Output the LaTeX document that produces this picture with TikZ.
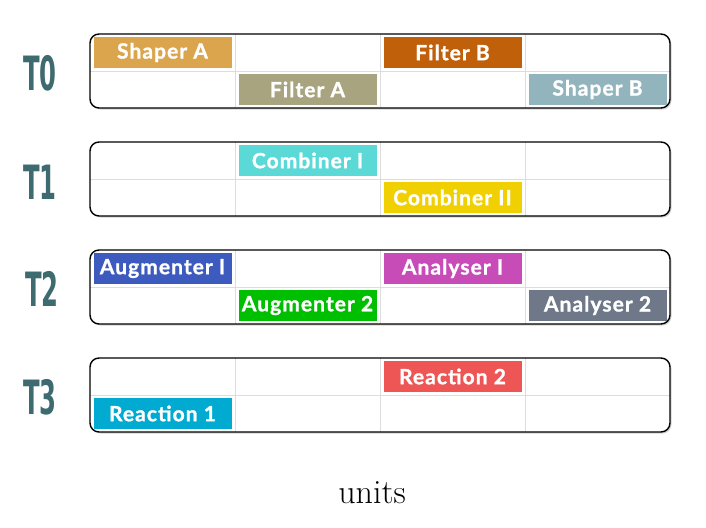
\documentclass[tikz,border=0pt]{standalone}
\usepackage{fontspec}
\newfontfamily\boxfont{Lato}[LetterSpace=5, BoldFeatures={FakeBold=1.2}]
\newfontfamily\rowfont{DejaVu Sans Condensed}
\usetikzlibrary{shadows}

\definecolor{rowteal}{HTML}{3D6B70}
\definecolor{gridgray}{HTML}{DDDDDD}
\definecolor{shaperA}{HTML}{DBA54D}
\definecolor{filterA}{HTML}{A8A480}
\definecolor{filterB}{HTML}{C0600A}
\definecolor{shaperB}{HTML}{92B5BD}
\definecolor{combI}{HTML}{5AD9D6}
\definecolor{combII}{HTML}{F0D000}
\definecolor{augI}{HTML}{3D5ABF}
\definecolor{augII}{HTML}{00BF00}
\definecolor{anaI}{HTML}{C84CB8}
\definecolor{anaII}{HTML}{6E7888}
\definecolor{reacII}{HTML}{EE5555}
\definecolor{reacI}{HTML}{00AAD0}

\tikzset{
  panelbg/.style={fill=white, rounded corners=9pt,
    drop shadow={shadow xshift=1.5pt, shadow yshift=-1.5pt, opacity=0.35}},
  panelline/.style={draw=black, line width=1.4pt, rounded corners=9pt},
  gridline/.style={draw=gridgray, line width=0.8pt},
  unitbox/.style={fill=#1, text=white, minimum width=138pt, minimum height=31pt,
    inner sep=0pt, font=\boxfont\bfseries\fontsize{21}{21}\selectfont},
  rowlabel/.style={text=rowteal, xscale=0.6, yscale=1.05,
    font=\rowfont\bfseries\fontsize{45}{45}\selectfont}
}

\begin{document}
\begin{tikzpicture}[x=1pt,y=-1pt]
\useasboundingbox (0,0) rectangle (706,527);

% panels with grid
\foreach \py in {34,142,250,358}{
  \path[panelbg] (90,\py) rectangle (670,\py+74);
  \foreach \gx in {235,380,525}
    \draw[gridline] (\gx,\py) -- (\gx,\py+74);
  \draw[gridline] (90,\py+37) -- (670,\py+37);
}

% T0
\begin{scope}
  \clip[rounded corners=9pt] (90,34) rectangle (670,108);
  \node[unitbox=shaperA] (shapera) at (162.5,52.5) {Shaper A};
  \node[unitbox=filterA] (filtera) at (307.5,89.5) {Filter A};
  \node[unitbox=filterB] (filterb) at (452.5,52.5) {Filter B};
  \node[unitbox=shaperB] (shaperb) at (597.5,89.5) {Shaper B};
\end{scope}

% T1
\begin{scope}
  \clip[rounded corners=9pt] (90,142) rectangle (670,216);
  \node[unitbox=combI] (combi) at (307.5,160.5) {Combiner I};
  \node[unitbox=combII] (combii) at (452.5,197.5) {Combiner II};
\end{scope}

% T2
\begin{scope}
  \clip[rounded corners=9pt] (90,250) rectangle (670,324);
  \node[unitbox=augI] (augi) at (162.5,268.5) {Augmenter I};
  \node[unitbox=augII] (augii) at (307.5,305.5) {Augmenter 2};
  \node[unitbox=anaI] (anai) at (452.5,268.5) {Analyser I};
  \node[unitbox=anaII] (anaii) at (597.5,305.5) {Analyser 2};
\end{scope}

% T3
\begin{scope}
  \clip[rounded corners=9pt] (90,358) rectangle (670,432);
  \node[unitbox=reacII] (reacii) at (452.5,376.5) {Reaction 2};
  \node[unitbox=reacI] (reaci) at (162.5,413.5) {Reaction 1};
\end{scope}

\foreach \py in {34,142,250,358}
  \draw[panelline] (90,\py) rectangle (670,\py+74);

% row labels
\node[rowlabel] (t0) at (40,73) {T0};
\node[rowlabel] (t1) at (40,182) {T1};
\node[rowlabel] (t2) at (42,289) {T2};
\node[rowlabel] (t3) at (40,397) {T3};

\node[font=\fontsize{34}{34}\selectfont] (units) at (372,493) {units};
\end{tikzpicture}
\end{document}
